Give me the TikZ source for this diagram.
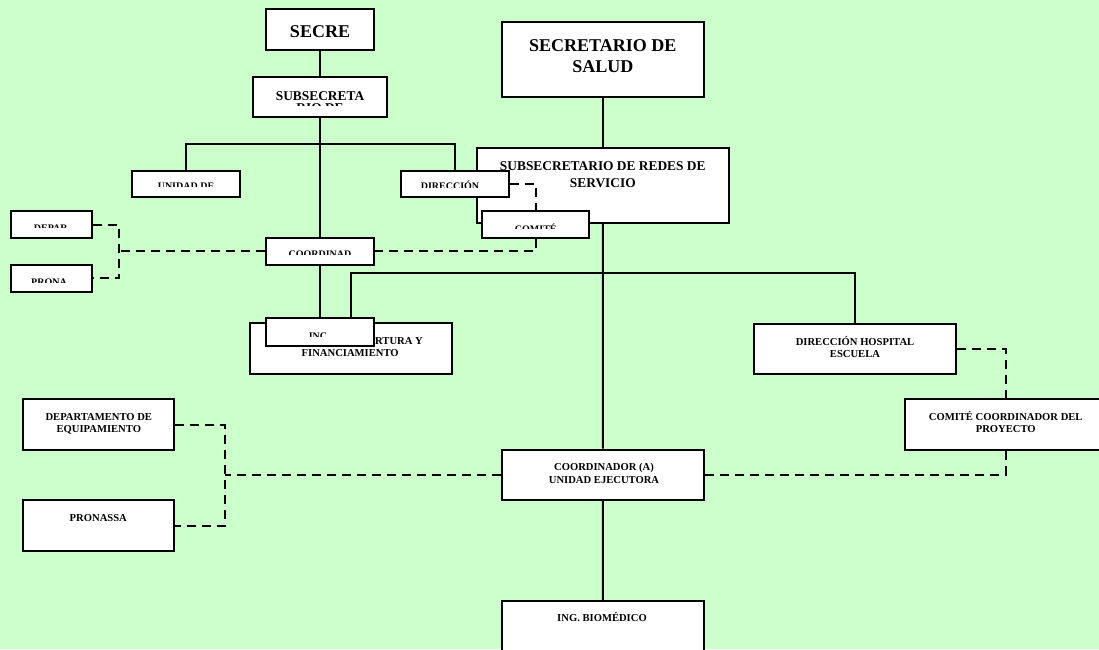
\documentclass[tikz,border=0pt]{standalone}
\usepackage{fontspec}
\setmainfont{Liberation Serif}
\usetikzlibrary{fit}
\definecolor{fondo}{HTML}{CCFFCC}
\definecolor{borde}{HTML}{000000}
\tikzset{
  caja/.style={draw=borde, fill=white, line width=2.2pt, inner sep=0pt},
  linea/.style={draw=borde, line width=2pt},
  punteada/.style={linea, dash pattern=on 9pt off 6pt},
  tgrande/.style={font=\fontsize{18}{21}\selectfont\bfseries, inner sep=0pt, anchor=base, align=center},
  tmedio/.style={font=\fontsize{13.4}{17}\selectfont\bfseries, inner sep=0pt, anchor=base, align=center},
  tchico/.style={font=\fontsize{10.6}{12.7}\selectfont\bfseries, inner sep=0pt, anchor=base, align=center},
  tcorte/.style={font=\fontsize{10}{12}\selectfont\bfseries, inner sep=0pt, anchor=base}
}
\begin{document}
\begin{tikzpicture}[x=1pt, y=-1pt]
    \clip (0,0) rectangle (1099,649);
    \fill[fondo] (0,0) rectangle (1099,649);

    % Rama de la secretaria (izquierda)
    \node[caja, fit={(266,9.3) (374,50)}] (secre) {};
    \node[tgrande] (tsecre) at (320,37.8) {SECRE};
    \node[caja, fit={(253,77) (387,117)}] (subsa) {};
    \begin{scope}
      \clip (253,77) rectangle (387,105.5);
      \node[tmedio] (tsubsa) at (320,112.3) {SUBSECRETA\\[-5.5pt]RIO DE};
    \end{scope}

    % Secretario y subsecretario de redes
    \node[caja, fit={(501.7,21.7) (703.9,97.3)}] (secsalud) {};
    \node[tgrande] (tsalud) at (602.8,72.8) {SECRETARIO DE\\SALUD};
    \node[caja, fit={(476.7,147.7) (728.9,222.7)}] (subredes) {};
    \node[tmedio] (tredes) at (602.8,187.5) {SUBSECRETARIO DE REDES DE\\SERVICIO};

    % Cajas recortadas
    \node[caja, fit={(132,171) (240,197)}] (unidad) {};
    \begin{scope}
      \clip (132,171) rectangle (240,186.7);
      \node[tcorte] (tunidad) at (186,189.8) {UNIDAD DE};
    \end{scope}
    \node[caja, fit={(401,171) (508.6,197)}] (direccion) {};
    \begin{scope}
      \clip (401,171) rectangle (508.6,187);
      \node[tcorte] (tdireccion) at (450,189.5) {DIRECCIÓN};
    \end{scope}
    \node[caja, fit={(482,211) (589,238)}] (comite) {};
    \begin{scope}
      \clip (482,211) rectangle (589,228.5);
      \node[tcorte] (tcomite) at (535.8,232) {COMITÉ};
    \end{scope}
    \node[caja, fit={(266,237.7) (374,265)}] (coordinad) {};
    \begin{scope}
      \clip (266,237.7) rectangle (374,254.5);
      \node[tcorte] (tcoordinad) at (320,257.5) {COORDINAD};
    \end{scope}
    \node[caja, fit={(11,211) (92,238)}] (depar) {};
    \begin{scope}
      \clip (11,211) rectangle (92,227.5);
      \node[tcorte] (tdepar) at (50.8,231.5) {DEPAR};
    \end{scope}
    \node[caja, fit={(11,264.7) (92,292)}] (prona) {};
    \begin{scope}
      \clip (11,264.7) rectangle (92,282);
      \node[tcorte] (tprona) at (49,285.5) {PRONA};
    \end{scope}

    % Cobertura e INC encimadas
    \node[caja, fit={(249.7,323.3) (451.8,374)}] (cobertura) {};
    \node[tchico, anchor=base west] (tcobert) at (375,344.6) {RTURA Y};
    \node[tchico] (tfinan) at (350.2,356.9) {FINANCIAMIENTO};
    \node[caja, fit={(266,318) (374,345.7)}] (inc) {};
    \begin{scope}
      \clip (266,318) rectangle (374,336);
      \node[tcorte] (tinc) at (318,339.2) {INC};
    \end{scope}

    % Unidad ejecutora y sus apoyos
    \node[caja, fit={(754,323.7) (955.8,374.3)}] (hospital) {};
    \node[tchico] (thospital) at (855,357.9) {DIRECCIÓN HOSPITAL\\ESCUELA};
    \node[caja, fit={(905,399.3) (1106,450)}] (comiteproy) {};
    \node[tchico] (tcomiteproy) at (1005.7,432.9) {COMITÉ COORDINADOR DEL\\PROYECTO};
    \node[caja, fit={(501.6,449.7) (704,500)}] (coorda) {};
    \node[tchico] (tcoorda) at (604,483.6) {COORDINADOR (A)\\UNIDAD EJECUTORA};
    \node[caja, fit={(22.7,399) (174.3,450)}] (equip) {};
    \node[tchico] (tequip) at (98.8,432.9) {DEPARTAMENTO DE\\EQUIPAMIENTO};
    \node[caja, fit={(22.7,500.3) (174.3,551)}] (pronassa) {};
    \node[tchico] (tpronassa) at (98.3,521.2) {PRONASSA};
    \node[caja, fit={(501.7,601) (703.9,680)}] (biomed) {};
    \node[tchico] (tbiomed) at (602,621.9) {ING. BIOMÉDICO};

    % Lineas de mando
    \coordinate (ramaA) at (320,144);
    \coordinate (ramaB) at (350.7,273.3);
    \draw[linea] (secre.south) -- (subsa.north);
    \draw[linea] (subsa.south) -- (coordinad.north);
    \draw[linea] (unidad.north) |- (ramaA) -| (direccion.north);
    \draw[linea] (coordinad.south) -- (inc.north);
    \draw[linea] (ramaB |- inc.north) -- (ramaB) -| (hospital.north);
    \draw[linea] (secsalud.south) -- (subredes.north);
    \draw[linea] (subredes.south) -- (coorda.north);
    \draw[linea] (coorda.south) -- (biomed.north);

    % Lineas de coordinacion
    \coordinate (nudoA) at (119,250);
    \coordinate (nudoB) at (225,475);
    \draw[punteada] (direccion.east) -| (comite.north);
    \draw[punteada] (comite.south) |- (coordinad.east);
    \draw[punteada] (coordinad.west) -- (coordinad.west -| nudoA);
    \draw[punteada] (depar.east) -| (nudoA |- prona.east) -- (prona.east);
    \draw[punteada] (hospital.east) -| (comiteproy.north);
    \draw[punteada] (comiteproy.south) |- (coorda.east);
    \draw[punteada] (coorda.west) -- (coorda.west -| nudoB);
    \draw[punteada] (equip.east) -| (nudoB |- pronassa.east) -- (pronassa.east);
\end{tikzpicture}
\end{document}
